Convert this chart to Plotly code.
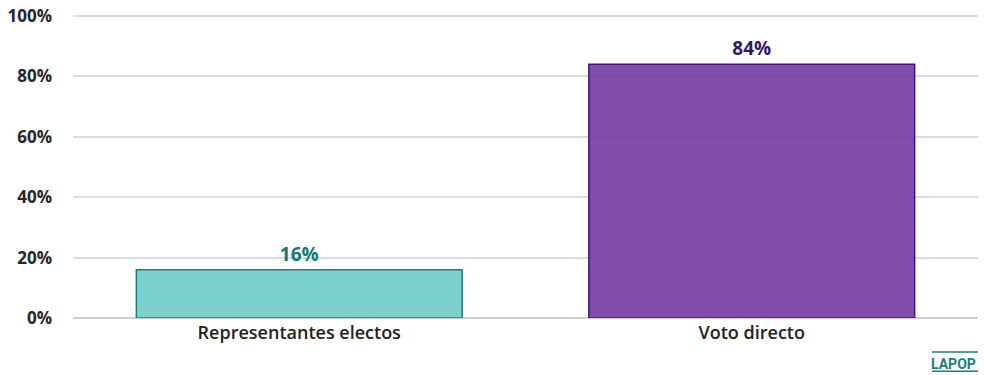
import plotly.graph_objects as go

categories = ["Representantes electos", "Voto directo"]
values = [16, 84]
labels = ["16%", "84%"]
fill_colors = ["rgba(110,204,202,0.9)", "rgba(114,59,158,0.9)"]
line_colors = ["#1b7f78", "#3f1585"]
text_colors = ["#0f7a70", "#35156b"]
tick_vals = [0, 20, 40, 60, 80, 100]
tick_text = ["0%", "20%", "40%", "60%", "80%", "100%"]

fig = go.Figure()
fig.add_trace(go.Bar(
    x=categories, y=values, width=0.72,
    marker=dict(color=fill_colors, line=dict(color=line_colors, width=1.5)),
    text=labels, textposition="outside",
    textfont=dict(family="Open Sans", size=19, color=text_colors, weight="bold"),
    cliponaxis=False,
))
fig.update_layout(
    width=984, height=375,
    margin=dict(l=73, r=6, t=14, b=57),
    plot_bgcolor="white", paper_bgcolor="white",
    showlegend=False,
    font=dict(family="Open Sans", color="#222"),
)
fig.update_yaxes(range=[0, 100.6], tickvals=tick_vals, ticktext=tick_text,
                 automargin=False,
                 showgrid=True, gridcolor="#dcdcdc", gridwidth=1.5,
                 zeroline=True, zerolinecolor="#cfcfcf", zerolinewidth=1.5,
                 tickfont=dict(family="Open Sans", size=17, color="#262626", weight="bold"),
                 ticks="", ticklen=0, ticklabelstandoff=20)
fig.update_xaxes(automargin=False,
                 tickfont=dict(family="Open Sans", size=18, color="#222", weight=600),
                 showgrid=False, ticklabelstandoff=2)
fig.add_annotation(x=0.9995, y=-0.118, xref="paper", yref="paper", xanchor="right", yanchor="top",
                   text="<b>LAPOP</b>", showarrow=False,
                   font=dict(family="Roboto", size=14, color="#1b7f78"))
for yy in (-0.112, -0.175):
    fig.add_shape(type="line", xref="paper", yref="paper", x0=0.949, x1=1.0, y0=yy, y1=yy,
                  line=dict(color="#1b7f78", width=1.5))
fig.write_html("out.html", config={"displayModeBar": False},
               post_script="document.body.style.margin='0';")
